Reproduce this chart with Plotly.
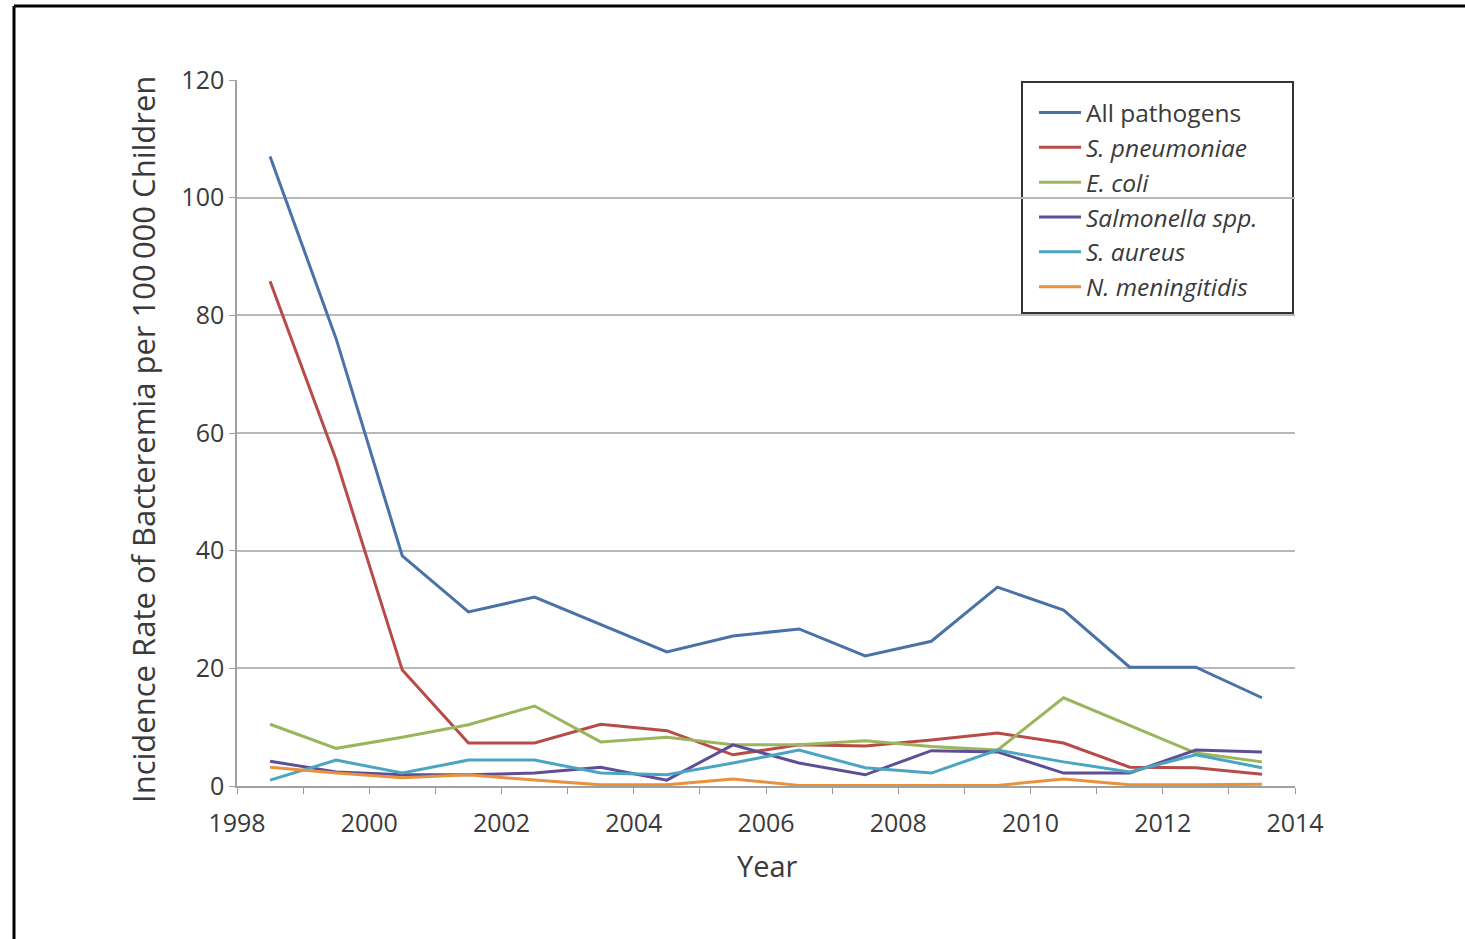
import plotly.graph_objects as go

years = [1998.5, 1999.5, 2000.5, 2001.5, 2002.5, 2003.5, 2004.5, 2005.5,
         2006.5, 2007.5, 2008.5, 2009.5, 2010.5, 2011.5, 2012.5, 2013.5]

all_pathogens = [107, 76, 39.1, 29.6, 32.1, 27.4, 22.8, 25.5, 26.7, 22.1, 24.6, 33.8, 29.9, 20.2, 20.2, 15.0]
s_pneumoniae = [85.8, 55.4, 19.7, 7.3, 7.3, 10.5, 9.4, 5.3, 7.0, 6.8, 7.8, 9.0, 7.3, 3.2, 3.1, 2.0]
e_coli = [10.5, 6.4, 8.3, 10.4, 13.6, 7.5, 8.3, 7.0, 7.0, 7.7, 6.7, 6.1, 15.0, 10.3, 5.6, 4.1]
salmonella = [4.2, 2.4, 1.9, 1.9, 2.2, 3.2, 1.0, 7.0, 3.9, 1.9, 6.0, 5.8, 2.2, 2.2, 6.1, 5.8]
s_aureus = [1.0, 4.4, 2.2, 4.4, 4.4, 2.2, 1.9, 3.9, 6.1, 3.1, 2.2, 6.1, 4.1, 2.4, 5.3, 3.1]
n_meningitidis = [3.2, 2.2, 1.4, 1.9, 1.0, 0.2, 0.2, 1.2, 0.1, 0.1, 0.1, 0.1, 1.2, 0.2, 0.2, 0.3]

series_names = ["All pathogens", "<i>S. pneumoniae</i>", "<i>E. coli</i>",
                "<i>Salmonella spp.</i>", "<i>S. aureus</i>", "<i>N. meningitidis</i>"]
series_values = [all_pathogens, s_pneumoniae, e_coli, salmonella, s_aureus, n_meningitidis]
series_colors = ["#4A72A8", "#B84A47", "#9BB55C", "#5E4E96", "#4BA5C2", "#E8913E"]

x_ticks = [1998, 2000, 2002, 2004, 2006, 2008, 2010, 2012, 2014]
y_ticks = [0, 20, 40, 60, 80, 100, 120]

fig = go.Figure()
for name, vals, col in zip(series_names, series_values, series_colors):
    fig.add_trace(go.Scatter(x=years, y=vals, mode="lines", name=name,
                             line=dict(color=col, width=3)))

L, R, T, B = 237, 170, 80, 153
W, H = 1465, 939
pw, ph = W - L - R, H - T - B

def px(xp):
    return (xp - L) / pw

def py(yp):
    return 1 - (yp - T) / ph

font = "Open Sans, Noto Sans, DejaVu Sans, sans-serif"
txt = "#3a3a3a"

fig.update_layout(
    width=W, height=H,
    margin=dict(l=L, r=R, t=T, b=B),
    plot_bgcolor="white", paper_bgcolor="white",
    font=dict(family=font, color=txt, size=25),
    showlegend=True,
    legend=dict(x=px(1034), y=py(90), xanchor="left", yanchor="top",
                bgcolor="rgba(0,0,0,0)", borderwidth=0,
                font=dict(size=24.5, color=txt), tracegroupgap=0,
                itemwidth=42),
    xaxis=dict(range=[1998, 2014], tickvals=x_ticks, ticks="outside", ticklen=6,
               tickcolor="#999999", showgrid=False, showline=True,
               linecolor="#a0a0a0", linewidth=1.5, zeroline=False,
               ticklabelstandoff=8,
               tickfont=dict(size=25, color=txt),
               minor=dict(dtick=1, tick0=1998, ticks="outside", ticklen=6,
                          tickcolor="#999999", showgrid=False)),
    yaxis=dict(range=[0, 120], tickvals=y_ticks, ticks="outside", ticklen=6,
               tickcolor="#a0a0a0", showgrid=True, gridcolor="#b8b8b8",
               gridwidth=1.5, showline=True, linecolor="#a0a0a0", linewidth=1.5,
               zeroline=False, tickfont=dict(size=25, color=txt)),
)

fig.add_annotation(text="Year", xref="paper", yref="paper", x=px(767), y=py(865),
                   xanchor="center", yanchor="middle",
                   showarrow=False, font=dict(size=29, color=txt))
fig.add_annotation(text="Incidence Rate of Bacteremia per 100\u2009000 Children",
                   xref="paper", yref="paper", x=px(143), y=py(440),
                   xanchor="center", yanchor="middle",
                   textangle=-90, showarrow=False, font=dict(size=31, color=txt))

# legend frame (drawn over the gridlines, under the traces)
fig.add_shape(type="rect", xref="paper", yref="paper",
              x0=px(1022), x1=px(1293), y0=py(313), y1=py(82),
              line=dict(color="#333333", width=2), fillcolor="white", layer="between")

# figure frame (cropped border at top and left)
fig.add_shape(type="line", xref="paper", yref="paper",
              x0=px(14), x1=px(1470), y0=py(6), y1=py(6),
              line=dict(color="black", width=3))
fig.add_shape(type="line", xref="paper", yref="paper",
              x0=px(14), x1=px(14), y0=py(6), y1=py(945),
              line=dict(color="black", width=3))

fig.write_html("out.html", config={"displayModeBar": False},
               post_script="document.body.style.margin='0';document.body.style.overflow='hidden';")
